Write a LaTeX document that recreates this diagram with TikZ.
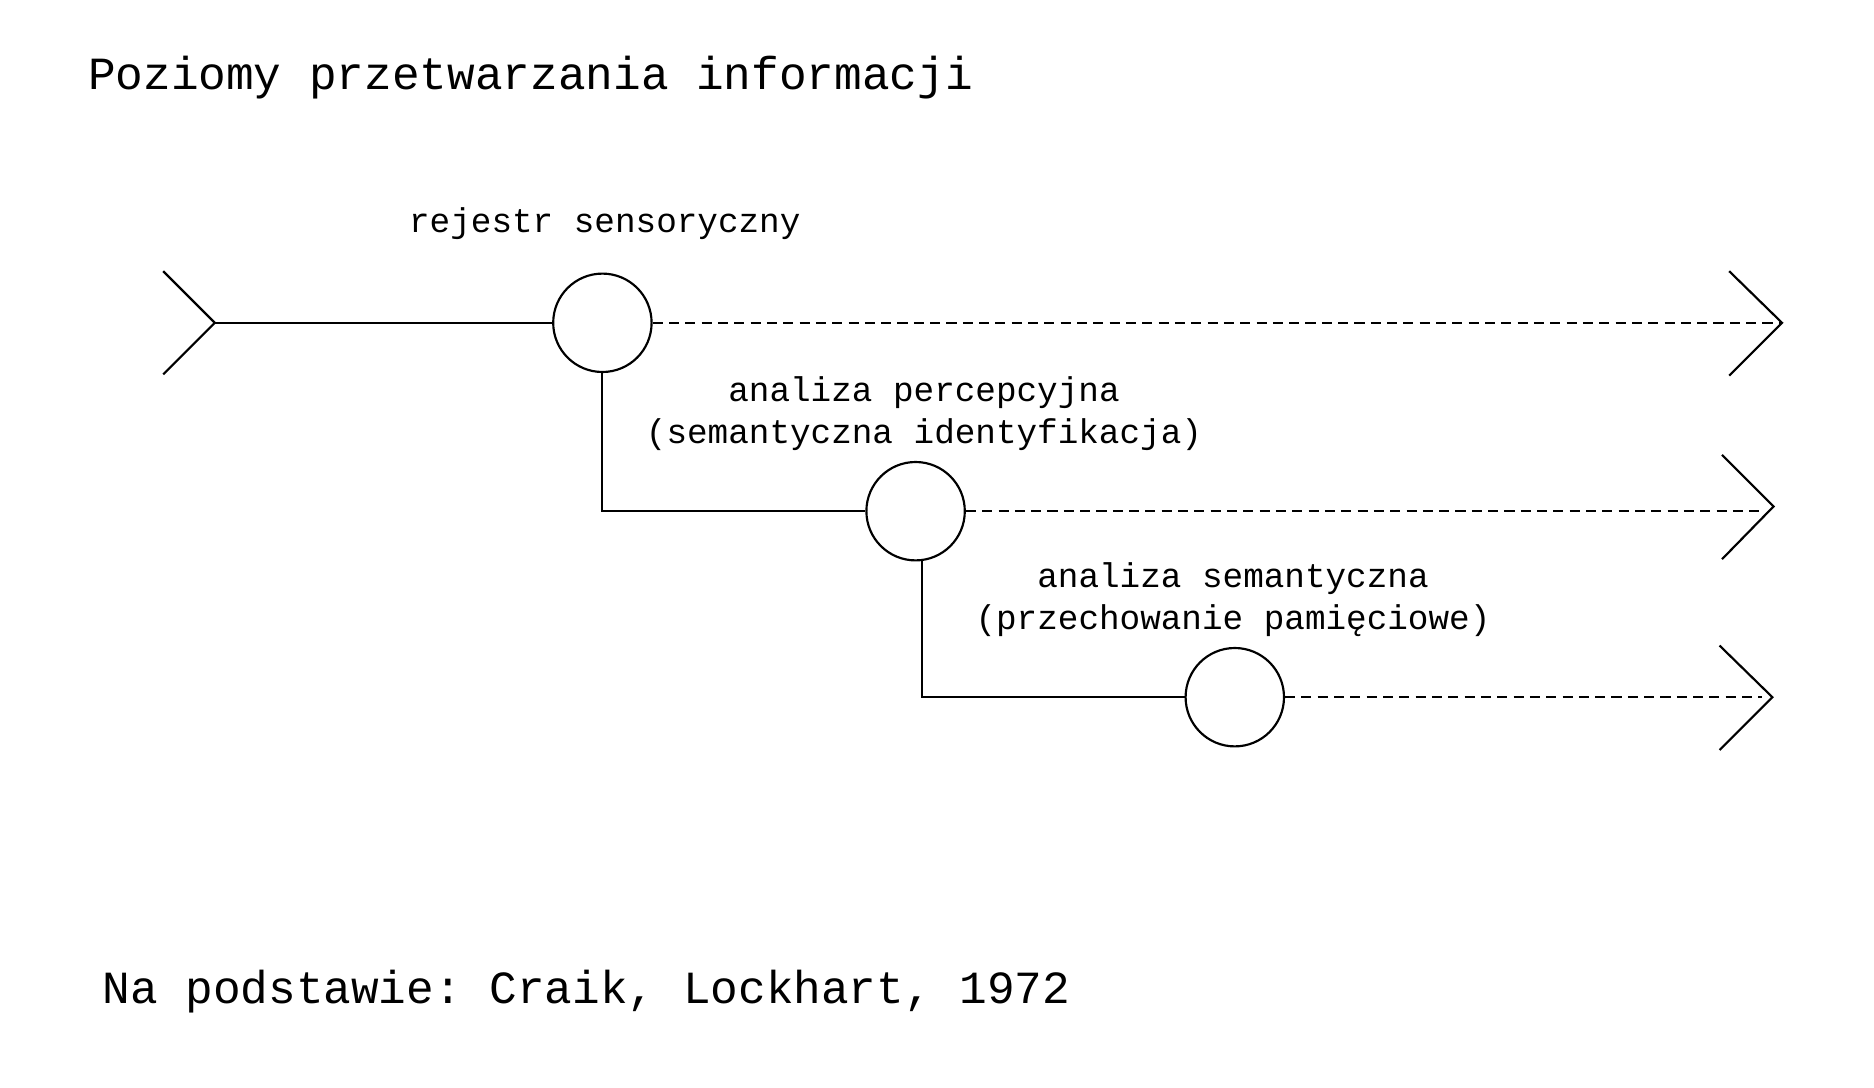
\documentclass[tikz,border=0pt]{standalone}
\usepackage{fontspec}
\setmonofont{Liberation Mono}
\begin{document}
\begin{tikzpicture}[x=0.5pt,y=-0.5pt,
  line/.style={line width=0.9pt,black},
  dline/.style={line width=0.9pt,black,dash pattern=on 4.2pt off 2.6pt},
  stage/.style={circle,draw,line width=0.9pt,minimum size=41pt,inner sep=0pt},
  big/.style={font=\ttfamily\fontsize{19.2}{23}\selectfont,inner sep=0pt},
  lab/.style={font=\ttfamily\fontsize{14.3}{17.5}\selectfont,inner sep=0pt,align=center}]
\useasboundingbox (0,0) rectangle (1561.67,906.67);
\node[big,anchor=west] (title) at (73,65) {Poziomy przetwarzania informacji};
\node[big,anchor=west] (foot) at (85,826) {Na podstawie: Craik, Lockhart, 1972};
% stages
\node[stage] (c1) at (502,269) {};
\node[stage] (c2) at (763,426) {};
\node[stage] (c3) at (1029,581) {};
% labels
\node[lab] (l1) at (504,186) {rejestr sensoryczny};
\node[lab] (l2) at (770,344.5) {analiza percepcyjna\\(semantyczna identyfikacja)};
\node[lab] (l3) at (1027.5,499.5) {analiza semantyczna\\(przechowanie pamięciowe)};
% input chevron
\coordinate (i0) at (136,226);
\coordinate (it) at (179,269);
\coordinate (i1) at (136,312);
\draw[line] (i0) -- (it) -- (i1);
\draw[line] (it) -- (c1.west);
% output chevrons
\coordinate (a0) at (1441,226);
\coordinate (at1) at (1485,269);
\coordinate (a1) at (1441,313);
\coordinate (b0) at (1435,379);
\coordinate (bt) at (1478,422);
\coordinate (b1) at (1435,466);
\coordinate (be) at (1470,426);
\coordinate (d0) at (1433,538);
\coordinate (dt) at (1477,581);
\coordinate (d1) at (1433,625);
\coordinate (de) at (1468,581);
\draw[line] (a0) -- (at1) -- (a1);
\draw[line] (b0) -- (bt) -- (b1);
\draw[line] (d0) -- (dt) -- (d1);
\draw[dline] (c1.east) -- (at1);
\draw[dline] (c2.east) -- (be);
\draw[dline] (c3.east) -- (de);
% branches
\draw[line] (c1.south) -- (c1.south |- c2.west) -- (c2.west);
\draw[line] ([xshift=2.5pt]c2.south) -- ([xshift=2.5pt]c2.south |- c3.west) -- (c3.west);
\end{tikzpicture}
\end{document}
